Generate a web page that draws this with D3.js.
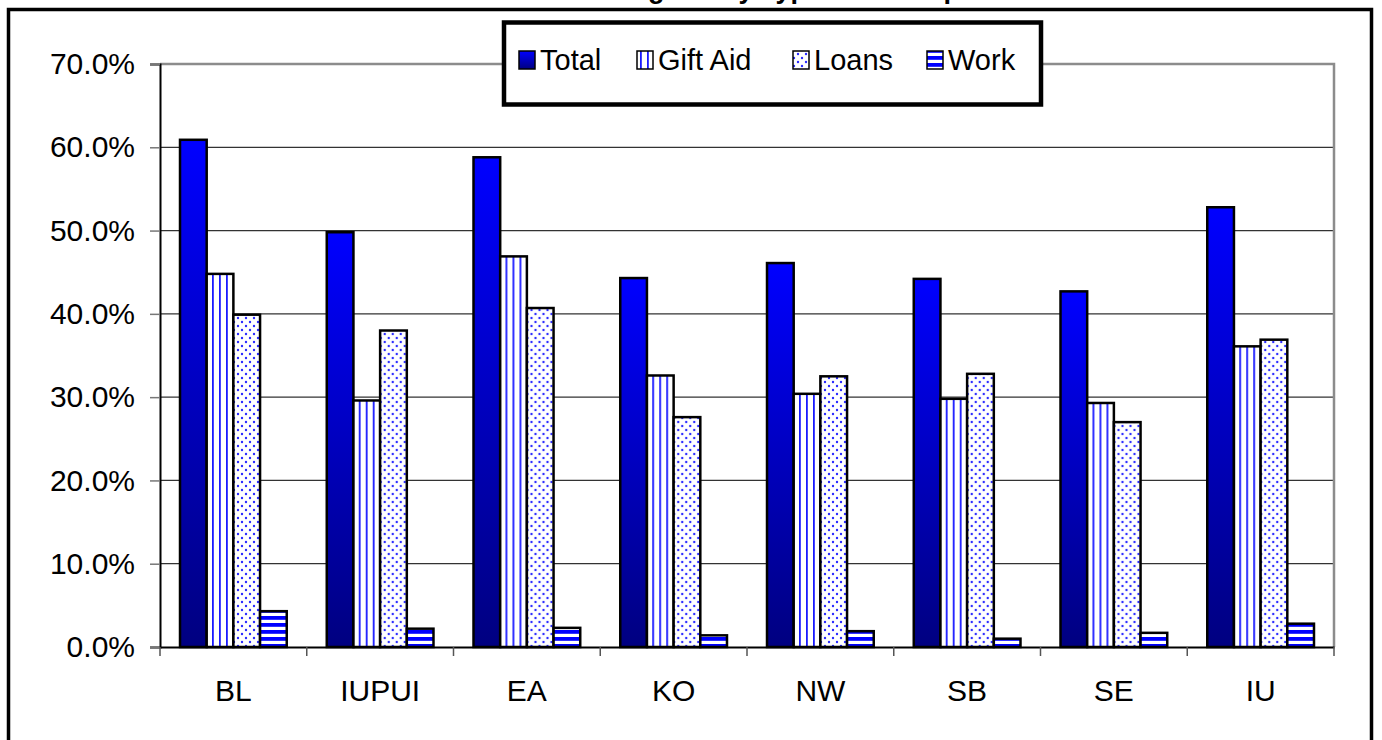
<!DOCTYPE html>
<html>
<head>
<meta charset="utf-8">
<script src="https://cdn.jsdelivr.net/npm/d3@7"></script>
<style>
  html, body { margin: 0; padding: 0; background: #fff; }
  svg { display: block; font-family: Arial, "Liberation Sans", sans-serif; }
</style>
</head>
<body>
<svg id="chart" width="1382" height="740"></svg>
<script>
// chart values (percent of students receiving aid)
const categories = ["BL", "IUPUI", "EA", "KO", "NW", "SB", "SE", "IU"];
const seriesNames = ["Total", "Gift Aid", "Loans", "Work"];
const totalVals = [60.9, 49.8, 58.8, 44.3, 46.1, 44.2, 42.7, 52.8];
const giftVals  = [44.8, 29.6, 46.9, 32.6, 30.4, 29.8, 29.3, 36.1];
const loanVals  = [39.9, 38.0, 40.7, 27.6, 32.5, 32.8, 27.0, 36.9];
const workVals  = [4.3, 2.2, 2.3, 1.4, 1.9, 1.0, 1.7, 2.8];
const yTicks = [0, 10, 20, 30, 40, 50, 60, 70];
const titleText = "Percent Receiving Aid by Type and Campus";

const seriesVals = [totalVals, giftVals, loanVals, workVals];
const fills = ["url(#gradTotal)", "url(#patGift)", "url(#patLoans)", "url(#patWork)"];

const svg = d3.select("#chart");
const defs = svg.append("defs");

// Total: blue fading to navy
const grad = defs.append("linearGradient")
    .attr("id", "gradTotal")
    .attr("x1", 0).attr("y1", 0).attr("x2", 0).attr("y2", 1);
grad.append("stop").attr("offset", "0%").attr("stop-color", "#0000ff");
grad.append("stop").attr("offset", "100%").attr("stop-color", "#000080");

// Gift Aid: vertical stripes
const pGift = defs.append("pattern")
    .attr("id", "patGift")
    .attr("patternUnits", "userSpaceOnUse")
    .attr("width", 7).attr("height", 7);
pGift.append("rect").attr("width", 7).attr("height", 7).attr("fill", "#fff");
pGift.append("rect").attr("x", 3).attr("width", 1.8).attr("height", 7).attr("fill", "#1a1aff");

// Loans: dots
const pLoans = defs.append("pattern")
    .attr("id", "patLoans")
    .attr("patternUnits", "userSpaceOnUse")
    .attr("width", 8).attr("height", 8);
pLoans.append("rect").attr("width", 8).attr("height", 8).attr("fill", "#fff");
pLoans.append("circle").attr("cx", 2).attr("cy", 2).attr("r", 1.2).attr("fill", "#2a2aff");
pLoans.append("circle").attr("cx", 6).attr("cy", 6).attr("r", 1.2).attr("fill", "#2a2aff");

// Work: horizontal stripes
const pWork = defs.append("pattern")
    .attr("id", "patWork")
    .attr("patternUnits", "userSpaceOnUse")
    .attr("width", 7).attr("height", 7);
pWork.append("rect").attr("width", 7).attr("height", 7).attr("fill", "#fff");
pWork.append("rect").attr("y", 0).attr("width", 7).attr("height", 3.8).attr("fill", "#0000ff");

// title, mostly cut off at the top of the picture
svg.append("text")
    .attr("x", 711)
    .attr("y", -2)
    .attr("text-anchor", "middle")
    .attr("font-size", "27px")
    .attr("font-weight", "bold")
    .attr("fill", "#000")
    .text(titleText);

// outer frame
svg.append("rect")
    .attr("x", 8.5).attr("y", 9.5)
    .attr("width", 1363).attr("height", 760)
    .attr("fill", "none")
    .attr("stroke", "#000")
    .attr("stroke-width", 3.5);

const plotLeft = 160, plotRight = 1334, plotTop = 64, plotBottom = 647;

const x = d3.scaleBand().domain(categories).range([plotLeft, plotRight]).padding(0);
const xs = d3.scaleBand().domain(seriesNames).range([0, x.bandwidth()])
    .paddingInner(0).paddingOuter(0.75);
const y = d3.scaleLinear().domain([0, 70]).range([plotBottom, plotTop]);

// gridlines
svg.append("g")
    .selectAll("line")
    .data(yTicks.filter(d => d > 0 && d < 70))
    .join("line")
    .attr("x1", plotLeft).attr("x2", plotRight)
    .attr("y1", d => y(d)).attr("y2", d => y(d))
    .attr("stroke", "#333")
    .attr("stroke-width", 1.2);

// plot area border (gray, top and right)
svg.append("path")
    .attr("d", `M${plotLeft},${plotTop}H${plotRight}V${plotBottom}`)
    .attr("fill", "none")
    .attr("stroke", "#8c8c8c")
    .attr("stroke-width", 2.5);

// bars
const groups = svg.append("g")
    .selectAll("g")
    .data(categories)
    .join("g")
    .attr("transform", d => `translate(${x(d)},0)`);

groups.selectAll("rect")
    .data((c, i) => seriesNames.map((s, k) => ({ s, k, v: seriesVals[k][i] })))
    .join("rect")
    .attr("x", d => xs(d.s))
    .attr("y", d => y(d.v))
    .attr("width", xs.bandwidth())
    .attr("height", d => y(0) - y(d.v))
    .attr("fill", d => fills[d.k])
    .attr("stroke", "#000")
    .attr("stroke-width", 2.5);

// y axis
const yAxis = svg.append("g")
    .attr("transform", `translate(${plotLeft},0)`)
    .call(d3.axisLeft(y)
        .tickValues(yTicks)
        .tickFormat(d => d.toFixed(1) + "%")
        .tickSize(10)
        .tickPadding(15));
yAxis.select(".domain").attr("stroke", "#000").attr("stroke-width", 2);
yAxis.selectAll(".tick line").attr("stroke", "#777").attr("stroke-width", 1.5);
yAxis.selectAll("text")
    .attr("font-size", "30px")
    .attr("font-family", "Arial, 'Liberation Sans', sans-serif")
    .attr("fill", "#000");

// x axis
const xAxis = svg.append("g")
    .attr("transform", `translate(0,${plotBottom})`)
    .call(d3.axisBottom(x).tickSize(0).tickPadding(33));
xAxis.select(".domain").attr("stroke", "#000").attr("stroke-width", 2);
xAxis.selectAll("text")
    .attr("font-size", "30px")
    .attr("font-family", "Arial, 'Liberation Sans', sans-serif")
    .attr("fill", "#000");
xAxis.selectAll(".boundary")
    .data(categories.map(c => x(c)).concat([plotRight]))
    .join("line")
    .attr("class", "boundary")
    .attr("x1", d => d).attr("x2", d => d)
    .attr("y1", 0).attr("y2", 9)
    .attr("stroke", "#555")
    .attr("stroke-width", 1.5);

// legend
const legend = svg.append("g").attr("class", "legend-wrapper");
legend.append("rect")
    .attr("x", 504).attr("y", 22.5)
    .attr("width", 537).attr("height", 82)
    .attr("fill", "#fff")
    .attr("stroke", "#000")
    .attr("stroke-width", 4.5);

const legendX = [519, 637, 793, 927];
seriesNames.forEach((name, k) => {
    legend.append("rect")
        .attr("x", legendX[k]).attr("y", 51)
        .attr("width", 16).attr("height", 18)
        .attr("fill", fills[k])
        .attr("stroke", "#000")
        .attr("stroke-width", 1.5);
    legend.append("text")
        .attr("x", legendX[k] + 21)
        .attr("y", 70)
        .attr("font-size", "29px")
        .attr("fill", "#000")
        .text(name);
});
</script>
</body>
</html>
